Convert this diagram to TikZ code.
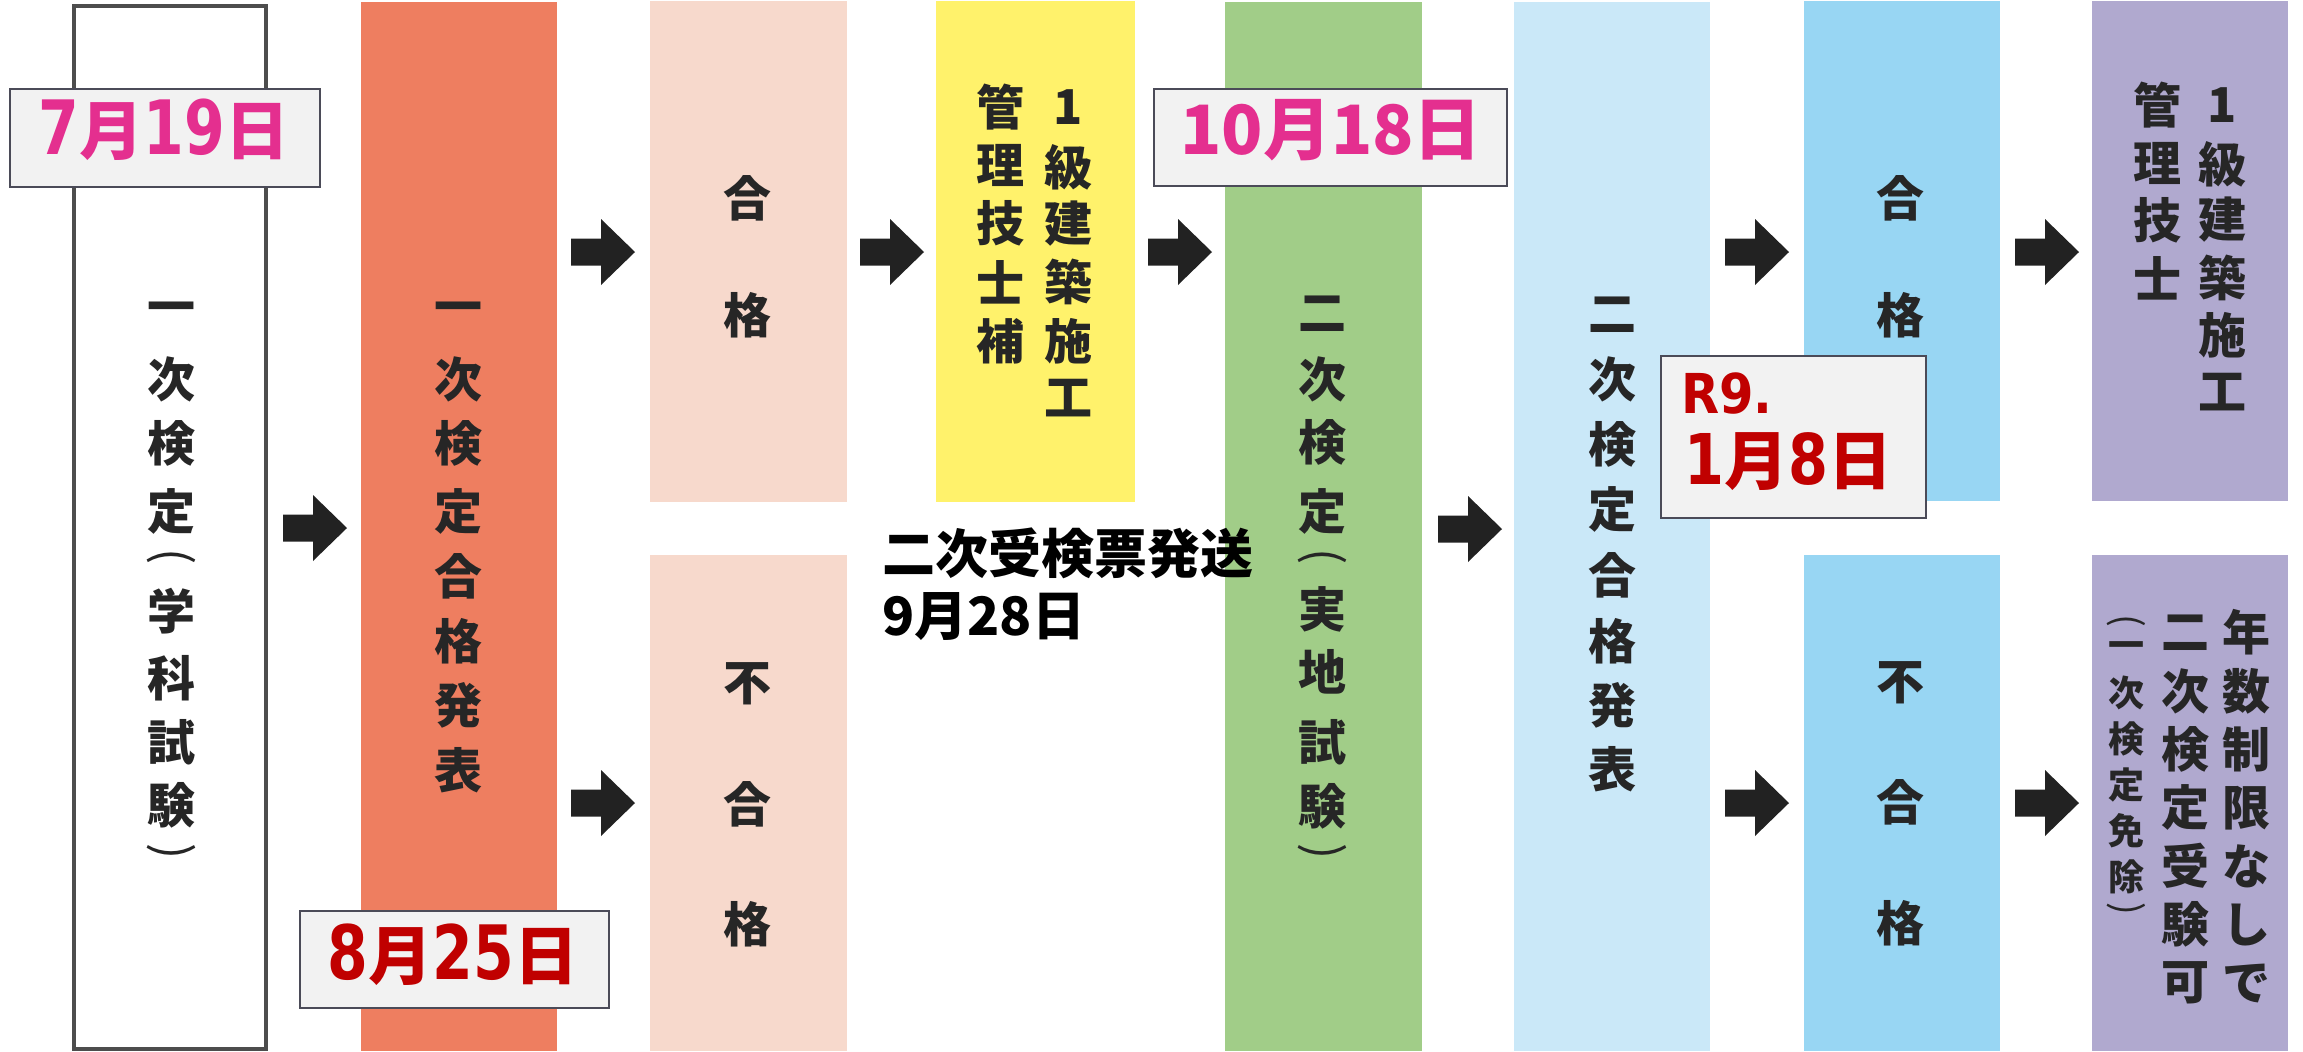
\documentclass[tikz,border=0pt]{standalone}
\usepackage{fontspec}
\newfontfamily\cjk{Noto Sans CJK JP}
\newfontfamily\dva{DejaVu Sans}[FakeStretch=0.78]
\newfontfamily\dvb{DejaVu Sans}[FakeStretch=0.82]
\newfontfamily\dvr{DejaVu Sans}[FakeStretch=0.9]
\usetikzlibrary{fit}
\definecolor{txt}{HTML}{262626}
\definecolor{mag}{HTML}{E42F8F}
\definecolor{dred}{HTML}{C00000}
\definecolor{lblfill}{HTML}{F2F2F2}
\definecolor{lbldraw}{HTML}{4B4B58}
\definecolor{orangec}{HTML}{EE7E60}
\definecolor{pinkc}{HTML}{F7D9CC}
\definecolor{yellowc}{HTML}{FFF26B}
\definecolor{greenc}{HTML}{A1CD88}
\definecolor{lbluec}{HTML}{CAE8F8}
\definecolor{bluec}{HTML}{98D6F3}
\definecolor{purplec}{HTML}{B0A9CF}
\definecolor{arrc}{HTML}{222222}
\definecolor{borderc}{HTML}{4D4D4D}
\newcommand\jsz[2]{{\cjk\fontsize{#1}{#1}\selectfont #2}}
\tikzset{
  colbox/.style={inner sep=0pt, outer sep=0pt},
  datebox/.style={inner sep=0pt, fill=lblfill, draw=lbldraw, line width=1.4pt},
  bt/.style={font=\cjk\bfseries\fontsize{24pt}{24pt}\selectfont, text=txt, inner sep=0pt, anchor=center},
  st/.style={font=\cjk\bfseries\fontsize{18pt}{18pt}\selectfont, text=txt, inner sep=0pt, anchor=center},
  bp/.style={font=\cjk\fontsize{24pt}{24pt}\selectfont, text=txt, inner sep=0pt, anchor=center, rotate=-90},
  sp/.style={font=\cjk\fontsize{19pt}{19pt}\selectfont, text=txt, inner sep=0pt, anchor=center, rotate=-90},
  lbltext/.style={inner sep=0pt, anchor=center},
  blockarrow/.pic={\fill[arrc] (0,-13.5) -- (30,-13.5) -- (30,-33) -- (64,0) -- (30,33) -- (30,13.5) -- (0,13.5) -- cycle;},
}
\begin{document}
\begin{tikzpicture}[x=0.5pt,y=-0.5pt]
\useasboundingbox (0,0) rectangle (2303,1051);
\fill[white] (0,0) rectangle (2303,1051);

% columns
\node[colbox, fit={(74,6) (266,1049)}, draw=borderc, line width=2pt, fill=white] (c1) {};
\node[colbox, fit={(361,2) (557,1051)}, fill=orangec] (c2) {};
\node[colbox, fit={(650,1) (847,502)}, fill=pinkc] (c3a) {};
\node[colbox, fit={(650,555) (847,1051)}, fill=pinkc] (c3b) {};
\node[colbox, fit={(936,1) (1135,502)}, fill=yellowc] (c4) {};
\node[colbox, fit={(1225,2) (1422,1051)}, fill=greenc] (c5) {};
\node[colbox, fit={(1514,2) (1710,1051)}, fill=lbluec] (c6) {};
\node[colbox, fit={(1804,1) (2000,501)}, fill=bluec] (c7a) {};
\node[colbox, fit={(1804,555) (2000,1051)}, fill=bluec] (c7b) {};
\node[colbox, fit={(2092,1) (2288,501)}, fill=purplec] (c8a) {};
\node[colbox, fit={(2092,555) (2288,1051)}, fill=purplec] (c8b) {};

% arrows
\coordinate (a1) at (283,528);
\coordinate (a2) at (571,252);
\coordinate (a3) at (571,803);
\coordinate (a4) at (860,252);
\coordinate (a5) at (1148,252);
\coordinate (a6) at (1438,529);
\coordinate (a7) at (1725,252);
\coordinate (a8) at (1725,803);
\coordinate (a9) at (2015,252);
\coordinate (a10) at (2015,803);
\foreach \a in {a1,a2,a3,a4,a5,a6,a7,a8,a9,a10} \pic at (\a) {blockarrow};

% column texts
\foreach \ch/\yy [count=\i] in {一/313,次/379,検/443,定/511,学/611,科/678,試/742,験/805}
  \node[bt] (c1t\i) at (171,\yy) {\ch};
\node[bp] (c1po) at (171,557) {(};
\node[bp] (c1pc) at (171,852) {)};
\foreach \ch/\yy [count=\i] in {一/313,次/379,検/443,定/511,合/576,格/641,発/705,表/770}
  \node[bt] (c2t\i) at (458,\yy) {\ch};
\foreach \ch/\yy [count=\i] in {合/198,格/315}
  \node[bt] (c3at\i) at (747,\yy) {\ch};
\foreach \ch/\yy [count=\i] in {不/684,合/804,格/924}
  \node[bt] (c3bt\i) at (747,\yy) {\ch};
\foreach \ch/\yy [count=\i] in {1/107,級/167,建/224,築/282,施/341,工/398}
  \node[bt] (c4r\i) at (1068,\yy) {\ch};
\foreach \ch/\yy [count=\i] in {管/107,理/165,技/223,士/282,補/341}
  \node[bt] (c4l\i) at (1000,\yy) {\ch};
\foreach \ch/\yy [count=\i] in {二/314,次/379,検/442,定/511,実/609,地/672,試/742,験/806}
  \node[bt] (c5t\i) at (1322,\yy) {\ch};
\node[bp] (c5po) at (1322,557) {(};
\node[bp] (c5pc) at (1322,852) {)};
\foreach \ch/\yy [count=\i] in {二/315,次/379,検/444,定/509,合/575,格/641,発/705,表/769}
  \node[bt] (c6t\i) at (1612,\yy) {\ch};
\foreach \ch/\yy [count=\i] in {合/198,格/315}
  \node[bt] (c7at\i) at (1900,\yy) {\ch};
\foreach \ch/\yy [count=\i] in {不/683,合/802,格/923}
  \node[bt] (c7bt\i) at (1900,\yy) {\ch};
\foreach \ch/\yy [count=\i] in {1/105,級/164,建/220,築/278,施/335,工/392}
  \node[bt] (c8ar\i) at (2222,\yy) {\ch};
\foreach \ch/\yy [count=\i] in {管/105,理/163,技/220,士/278}
  \node[bt] (c8al\i) at (2157,\yy) {\ch};
\foreach \ch/\yy [count=\i] in {年/632,数/691,制/749,限/808,な/866,し/925,で/983}
  \node[bt] (c8br\i) at (2246,\yy) {\ch};
\foreach \ch/\yy [count=\i] in {二/633,次/691,検/749,定/807,受/866,験/924,可/983}
  \node[bt] (c8bm\i) at (2185,\yy) {\ch};
\foreach \ch/\yy [count=\i] in {一/650,次/693,検/739,定/785,免/831,除/877}
  \node[st] (c8bl\i) at (2126,\yy) {\ch};
\node[sp] (c8bpo) at (2126,621) {(};
\node[sp] (c8bpc) at (2126,909) {)};

% free text
\node[inner sep=0pt, anchor=west, font=\cjk\bfseries\fontsize{26.5pt}{26.5pt}\selectfont, text=black] (t1a) at (882,553) {二次受検票発送};
\node[inner sep=0pt, anchor=west, font=\cjk\bfseries\fontsize{26.5pt}{26.5pt}\selectfont, text=black] (t1b) at (882,617) {9月28日};

% date labels
\node[datebox, fit={(10,89) (320,187)}] (l1) {};
\node[lbltext, text=mag, font=\dva\bfseries\fontsize{37.5pt}{37.5pt}\selectfont] (l1t) at (164,130) {7\jsz{32pt}{月}19\jsz{32pt}{日}};
\node[datebox, fit={(300,911) (609,1008)}] (l2) {};
\node[lbltext, text=dred, font=\dva\bfseries\fontsize{37.5pt}{37.5pt}\selectfont] (l2t) at (453,955) {8\jsz{32pt}{月}25\jsz{32pt}{日}};
\node[datebox, fit={(1154,89) (1507,186)}] (l3) {};
\node[lbltext, text=mag, font=\cjk\bfseries\fontsize{34pt}{34pt}\selectfont] (l3t) at (1331,130) {10月18日};
\node[datebox, fit={(1661,356) (1926,518)}] (l4) {};
\node[inner sep=0pt, anchor=west, text=dred, font=\dvr\bfseries\fontsize{27.5pt}{27.5pt}\selectfont] (l4a) at (1681,393) {R9.};
\node[inner sep=0pt, anchor=west, text=dred, font=\dvb\bfseries\fontsize{35pt}{35pt}\selectfont] (l4b) at (1684,462) {1\jsz{32pt}{月}8\jsz{32pt}{日}};
\end{tikzpicture}
\end{document}
